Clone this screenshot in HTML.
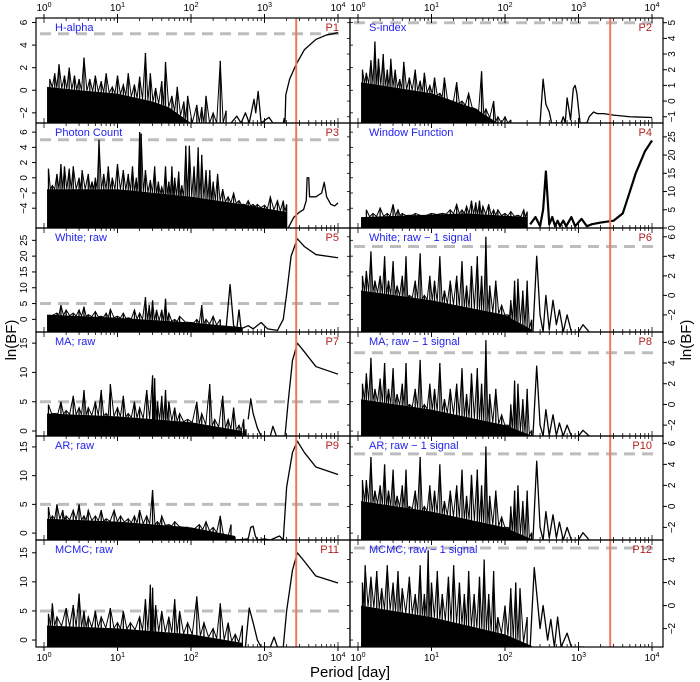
<!DOCTYPE html>
<html><head><meta charset="utf-8"><style>
html,body{margin:0;padding:0;background:#fff}
svg{display:block;font-family:"Liberation Sans",sans-serif}
</style></head><body>
<svg id="c" width="700" height="682" viewBox="0 0 700 682"></svg>
<script>
// ---- data (period [day], ln(BF)) ----
const p1Dense=[[1.1,0.3],[3,0],[10,-0.3],[30,-1],[50,-1.5],[100,-2.9]];
const p1Spikes=[[1.2,1],[1.4,1.5],[1.6,2.3],[1.9,1.3],[2.2,2],[2.6,1.3],[3.0,1],[3.5,2.9],[4.2,1],[5,1.3],[6,0.8],[7,1.5],[8.5,0.3],[10,1.3],[12,0.5],[14,1.5],[17,0.5],[20,1.2],[24,3.3],[28,1.5],[33,0.2],[40,0.8],[45,2.5],[55,-0.5],[65,0.3],[80,-1],[90,-0.5],[120,-1.3],[140,-1.5],[160,-0.5],[200,-2],[250,2.6],[300,-1.8]];
const p1Curve=[[350,-2.9],[420,-2.3],[480,-2.9],[550,-2],[620,-2.9],[720,-0.8],[760,-2],[820,-0.1],[900,-2.9],[1150,-2.4],[1300,-2.9],[1800,-2.9],[1850,-2.5],[1900,-2.9],[1950,-0.4],[2200,1],[2700,2.3],[3500,3.6],[5000,4.5],[7000,4.9],[10000,5.1]];

const p2Dense=[[1.1,1.2],[10,0.5],[40,-0.5],[80,-1.4]];
const p2Spikes=[[1.15,2],[1.3,1.8],[1.5,2.6],[1.7,3.8],[1.9,2.7],[2.2,3],[2.5,2],[2.8,2.7],[3.2,2],[3.7,1.4],[4.2,2.5],[5,1.5],[6,2],[7,1.3],[8,1.8],[9.5,1],[11,1.5],[13,0.5],[15,1.5],[18,0],[22,1.2],[26,0],[32,0.5],[40,-0.5],[48,1.9],[55,-0.5],[70,0],[80,-1],[100,-1],[120,-1.2]];
const p2Curve=[[300,-1.4],[330,1.4],[360,-0.2],[400,-0.7],[430,-1.4],[580,-1.4],[620,-1],[660,-1.4],[700,0.2],[780,-1.2],[850,0.8],[900,1],[950,0.5],[1050,-1.4],[1300,-1.4],[1400,-1],[1600,-0.7],[1800,-0.8],[2200,-0.8],[3000,-0.9],[5000,-1],[10000,-1.05]];

const p3Dense=[[1.1,-1.5],[10,-1.5],[100,-2.5],[500,-3.5],[2000,-4.5]];
const p3Spikes=[[1.15,1.2],[1.3,-1],[1.5,0.5],[1.7,1.8],[1.9,1.5],[2.2,1.2],[2.5,1.5],[3,0],[3.3,1],[4,0.5],[4.5,-0.5],[5,0],[5.6,5],[6.5,0.5],[7.5,1.5],[8.5,0],[10,1.8],[12,1],[14,0.5],[16,1.5],[18,0],[20,6],[21,5.8],[24,1],[28,-0.3],[32,1.5],[36,-0.5],[40,-1.2],[45,1.5],[50,-0.5],[55,1.5],[60,0],[68,0.8],[75,-1],[85,4.2],[95,4.2],[110,1.5],[125,4],[140,3],[160,1],[180,1],[200,-0.5],[230,0.5],[270,-1.5],[320,-2.5],[380,-2],[450,-3],[520,-3.5],[600,-3],[700,-3.5],[800,-3.5],[1000,-3.6],[1200,-2.5],[1500,-3],[1800,-3],[2000,-3.5]];
const p3Curve=[[2100,-6.6],[2500,-5.2],[3000,-4.5],[3400,-4.2],[3700,-3],[3800,0],[4000,0],[4100,-2.5],[5000,-2.5],[6000,-2],[6500,-0.6],[7000,-2.5],[8000,-3.5],[9000,-3.7],[10000,-3.3]];

const p4Dense=[[1.1,3],[30,4],[200,3]];
const p4Spikes=[[1.3,5],[1.6,4],[2,5.5],[2.5,4],[3,6.5],[3.5,5],[4,4],[5,3.5],[6,4],[8,3],[10,4],[14,4],[18,5],[22,6.5],[26,5],[30,6],[35,7.5],[40,7],[45,7.5],[50,6],[60,6.5],[70,5],[80,5],[100,4],[120,4.5],[150,3.5],[180,5],[200,4.5]];
const p4Curve=[[220,1],[260,3],[300,0.5],[330,5],[360,15.5],[380,8],[400,1],[440,3],[480,0.5],[520,2],[560,0.5],[620,2],[680,0.5],[800,3],[900,0.5],[1100,2.5],[1300,0.5],[1500,1],[2000,1.5],[3000,2],[4000,4],[5000,10],[6000,15],[8000,21],[10000,24]];

const p5Dense=[[1.1,1.5],[10,0.5],[100,-1],[500,-2.5]];
const p5Spikes=[[1.2,1],[1.5,2],[1.7,4.5],[2,3],[2.5,2],[3,3],[3.5,4],[4,1.5],[5,2.5],[6,1],[7,2],[8,3.2],[10,1],[12,2],[14,0.5],[17,3],[20,2],[24,7],[27,4.5],[30,6],[34,3],[40,3],[45,6.5],[50,2],[60,0],[70,1],[100,-1],[120,0],[140,4.5],[160,0],[200,1],[250,0]];
const p5Curve=[[300,-3],[340,11],[380,-2],[420,-3],[450,3],[480,-3],[600,-2],[700,-3],[900,-1],[1100,-3],[1500,-3.5],[1800,0],[2000,8],[2300,20],[2800,25.5],[3500,23],[5000,20.5],[10000,19.5]];

const p6Dense=[[1.1,0.5],[10,-0.5],[100,-2],[230,-3.5]];
const p6Spikes=[[1.15,2],[1.3,2.5],[1.5,4.5],[1.7,1.5],[2,2],[2.3,4],[2.6,1.5],[3,3.5],[3.4,1],[4,2],[4.5,4],[5,0],[6,1.5],[7,4.3],[8,0],[9.5,2],[11,1.5],[13,4],[15,0.5],[18,1.5],[22,2],[26,3.5],[30,1],[35,3],[42,4],[48,2],[55,6],[62,1],[75,1.5],[90,-1],[110,-2],[120,-0.5],[135,1.5],[150,1.7],[175,0.5],[200,1.5],[230,-2.5]];
const p6Curve=[[240,-3.75],[270,4],[300,-2],[330,-3.75],[360,0],[400,-3.5],[450,-0.5],[500,-3],[550,-1.5],[620,-3.75],[700,-2],[800,-3.75],[1000,-3.75],[1150,-3],[1400,-3.75]];

const p7Dense=[[1.1,3],[10,2.5],[100,1.5],[500,0]];
const p7Spikes=[[1.15,4.5],[1.4,3],[1.7,5],[2,3.5],[2.5,6],[3,4],[3.5,7],[4,4],[5,5],[6,7],[7,3],[8,8],[10,4],[12,6],[14,3],[17,5],[20,4],[25,7],[30,9.5],[32,9],[35,5],[40,6],[45,7],[50,5],[60,4],[70,3],[90,2],[120,5],[140,3],[180,8],[210,2],[270,6],[320,2],[380,4],[450,1],[520,2],[560,0.3]];
const p7Curve=[[600,2],[650,5.5],[700,3],[800,0.5],[900,-0.85],[1200,-0.85],[1300,0.8],[1450,-0.85],[1900,-0.85],[2100,5],[2400,12],[2800,15],[3500,13.5],[5000,11],[10000,9.7]];

const p8Dense=[[1.1,0.5],[10,-0.5],[100,-2],[230,-3]];
const p8Spikes=[[1.15,2],[1.3,3],[1.5,4.5],[1.7,1.5],[2,2.5],[2.3,4],[2.6,1.5],[3,3.5],[3.4,1],[4,2],[4.5,4],[5,0],[6,1.5],[7,4.3],[8,0],[9.5,2],[11,1.5],[13,4],[15,0.5],[18,1.5],[22,2],[26,3.5],[30,1],[35,3],[42,3.5],[48,2],[55,6.2],[62,1],[75,1.5],[90,-1],[110,-2],[120,0],[135,2.3],[150,2],[175,0.5],[200,1.5],[230,-2.5]];
const p8Curve=[[240,-3.05],[270,3.7],[300,-2],[330,-3.05],[360,-0.5],[400,-3],[450,-1],[500,-3],[550,-1.8],[620,-3.05],[700,-2],[800,-3.05],[1000,-3.05],[1150,-2.5],[1400,-3.05]];

const p9Dense=[[1.1,2.5],[10,2],[100,1],[400,-0.5]];
const p9Spikes=[[1.15,4.5],[1.3,3],[1.5,5],[1.8,4],[2,3],[2.5,4],[3,5],[3.5,3],[4,4],[5,3],[6,4],[7,2.5],[9,4],[11,3],[14,2.5],[17,3],[20,4],[25,3],[30,7.5],[35,2],[40,3],[50,1.5],[60,2],[80,1],[100,0.5],[130,1.5],[160,2],[200,1],[250,3],[300,-0.5],[350,1.5]];
const p9Curve=[[400,-1.2],[600,-1],[650,1],[700,1.2],[750,-0.5],[800,-1.2],[1000,-1],[1200,-1.2],[1600,-0.5],[1800,-1.2],[2000,8],[2400,14],[2800,16],[3500,14],[5000,11.5],[10000,10.2]];

const p10Dense=[[1.1,0.5],[10,-0.5],[100,-2],[230,-3.1]];
const p10Spikes=[[1.15,2.5],[1.3,2.5],[1.5,4.7],[1.7,1.5],[2,2],[2.3,4],[2.6,1.5],[3,3.5],[3.4,1],[4,2],[4.5,3.5],[5,0],[6,1.5],[7,4.7],[8,0],[9.5,2],[11,1.5],[13,4],[15,0.5],[18,1.5],[22,2],[26,3.5],[30,1],[35,3],[42,3.5],[48,2],[55,5.7],[62,1],[75,1.5],[90,-1],[110,-2],[120,0],[135,1.5],[150,2],[175,0.5],[200,1.5],[230,-2.5]];
const p10Curve=[[240,-3.2],[270,4.3],[300,-2],[330,-3.2],[360,-0.5],[400,-3],[450,-0.8],[500,-3],[550,-1.5],[620,-3.2],[700,-2],[800,-3.2],[1000,-3.2],[1150,-2.5],[1400,-3.2]];

const p11Dense=[[1.1,2.5],[10,2],[100,1],[500,-0.5]];
const p11Spikes=[[1.15,4.5],[1.3,6.3],[1.5,4],[2,5.5],[2.5,6],[3,8],[3.5,5],[4,4],[5,5],[6,4],[8,5.5],[10,3],[12,5],[15,3],[20,4],[24,7],[28,9.5],[30,9],[33,6],[40,5],[50,4],[60,7],[70,5],[90,3],[120,7.5],[150,3],[200,2],[250,6.3],[320,3],[400,1],[500,2.5]];
const p11Curve=[[550,-1.2],[620,5.5],[700,3],[800,0],[900,-1.2],[1200,-1.2],[1350,0.5],[1500,-1.2],[1800,-1.2],[2000,5],[2400,12],[2800,15],[3500,13.5],[5000,11],[10000,9.8]];

const p12Dense=[[1.1,0],[10,-1],[100,-2.5],[230,-3.5]];
const p12Spikes=[[1.15,2],[1.25,3.5],[1.5,2.5],[1.8,3],[2.1,1.5],[2.5,3.5],[3,2],[3.5,3],[4,1.5],[5,2.5],[6,1],[7,3.5],[8,1],[9,4.8],[10,2],[12,3],[14,1],[17,2.5],[20,3.5],[24,2],[28,1],[32,3],[38,1],[45,2.5],[52,4],[60,1],[70,3],[80,-1],[100,0],[120,1.5],[140,2],[160,1.5],[200,-1]];
const p12Curve=[[220,-3.6],[250,3.3],[300,-2],[330,0],[380,-3],[420,-1.2],[470,-3.6],[520,-1],[580,-3.6],[700,-2.4],[800,-3.6],[1200,-3.6]];

const xTickLabels=["10","10","10","10","10"];
const xTickExps=["0","1","2","3","4"];
const signalPeriod=2700;
const threshold=5;

// ---- layout ----
const svg=document.getElementById('c');
const NS='http://www.w3.org/2000/svg';
function mk(tag,attrs,parent){const e=document.createElementNS(NS,tag);for(const k in attrs)e.setAttribute(k,attrs[k]);(parent||svg).appendChild(e);return e;}
const rows=[18,123,228,332,436,540,647];
const cols=[{x0:36,x1:350,o:44},{x0:350,x1:663,o:358}];
const dec=73.5;
const panels=[
 {n:'P1',t:'H-alpha',c:0,r:0,lo:-2.9,hi:6.4,ticks:[-2,0,2,4,6],d:p1Dense,s:p1Spikes,k:p1Curve,th:true},
 {n:'P2',t:'S-index',c:1,r:0,lo:-1.4,hi:5.3,ticks:[-1,0,1,2,3,4,5],d:p2Dense,s:p2Spikes,k:p2Curve,th:true},
 {n:'P3',t:'Photon Count',c:0,r:1,lo:-6.6,hi:7.2,ticks:[-4,-2,0,2,4,6],d:p3Dense,s:p3Spikes,k:p3Curve,th:true},
 {n:'P4',t:'Window Function',c:1,r:1,lo:0,hi:28.8,ticks:[0,5,10,15,20,25],d:p4Dense,s:p4Spikes,k:p4Curve,th:false},
 {n:'P5',t:'White; raw',c:0,r:2,lo:-4,hi:28.9,ticks:[0,5,10,15,20,25],d:p5Dense,s:p5Spikes,k:p5Curve,th:true},
 {n:'P6',t:'White; raw \u2212 1 signal',c:1,r:2,lo:-3.75,hi:6.9,ticks:[-2,0,2,4,6],d:p6Dense,s:p6Spikes,k:p6Curve,th:true},
 {n:'P7',t:'MA; raw',c:0,r:3,lo:-0.85,hi:16.9,ticks:[0,5,10,15],d:p7Dense,s:p7Spikes,k:p7Curve,th:true},
 {n:'P8',t:'MA; raw \u2212 1 signal',c:1,r:3,lo:-3.05,hi:7,ticks:[-2,0,2,4,6],d:p8Dense,s:p8Spikes,k:p8Curve,th:true},
 {n:'P9',t:'AR; raw',c:0,r:4,lo:-1.2,hi:16.9,ticks:[0,5,10,15],d:p9Dense,s:p9Spikes,k:p9Curve,th:true},
 {n:'P10',t:'AR; raw \u2212 1 signal',c:1,r:4,lo:-3.2,hi:6.7,ticks:[-2,0,2,4,6],d:p10Dense,s:p10Spikes,k:p10Curve,th:true},
 {n:'P11',t:'MCMC; raw',c:0,r:5,lo:-1.2,hi:17.2,ticks:[0,5,10,15],d:p11Dense,s:p11Spikes,k:p11Curve,th:true},
 {n:'P12',t:'MCMC; raw \u2212 1 signal',c:1,r:5,lo:-3.6,hi:5.7,ticks:[-2,0,2,4],d:p12Dense,s:p12Spikes,k:p12Curve,th:true}
];
function denseAt(d,per){
 if(per<=d[0][0])return d[0][1];
 for(let j=0;j<d.length-1;j++){const a=d[j],b=d[j+1];
  if(per<=b[0]){const f=(Math.log10(per)-Math.log10(a[0]))/(Math.log10(b[0])-Math.log10(a[0]));return a[1]+f*(b[1]-a[1]);}}
 return null;
}
panels.forEach((p,i)=>{
 const C=cols[p.c],top=rows[p.r],bot=rows[p.r+1];
 const X=v=>C.o+Math.log10(v)*dec;
 const Y=v=>bot-(Math.max(p.lo,Math.min(p.hi,v))-p.lo)/(p.hi-p.lo)*(bot-top);
 const g=mk('g',{});
 
 
 const cid='clip'+i;
 const cp=mk('clipPath',{id:cid},g);mk('rect',{x:C.x0,y:top,width:C.x1-C.x0,height:bot-top},cp);
 const inner=mk('g',{'clip-path':'url(#'+cid+')'},g);
 if(p.th){const l=mk('line',{x1:C.x0+4,x2:C.x1-4,y1:Y(threshold),y2:Y(threshold),stroke:'#bdbdbd','stroke-width':3,'stroke-dasharray':'11,7'},inner);
  }
 let pts=p.d.map(q=>X(q[0])+','+Y(q[1]));
 pts.push(X(p.d[p.d.length-1][0])+','+bot);pts.push(X(p.d[0][0])+','+bot);
 const poly=mk('polygon',{points:pts.join(' '),fill:'#000'},inner);
 
 p.s.forEach(q=>{const l=mk('line',{x1:X(q[0]),x2:X(q[0]),y1:bot,y2:Y(q[1]),stroke:'#000','stroke-width':1.3},inner);
  });
 const jag=[];
 for(let j=0;j<p.s.length-1;j++){const a=p.s[j],b=p.s[j+1];jag.push(X(a[0])+','+Y(a[1]));
  const mp=Math.sqrt(a[0]*b[0]);const dl=denseAt(p.d,mp);jag.push(X(mp)+','+(dl===null?bot:Y(dl)));}
 jag.push(X(p.s[p.s.length-1][0])+','+Y(p.s[p.s.length-1][1]));
 const jl=mk('polyline',{points:jag.join(' '),fill:'none',stroke:'#000','stroke-width':1},inner);
 
 const cl=mk('polyline',{points:p.k.map(q=>X(q[0])+','+Y(q[1])).join(' '),fill:'none',stroke:'#000','stroke-width':p.n==='P4'?2.2:1.3,'stroke-linejoin':'round'},inner);
 
 const rl=mk('line',{x1:X(signalPeriod),x2:X(signalPeriod),y1:top,y2:bot,stroke:'#f07860','stroke-width':2},inner);
 
 const fr=mk('rect',{x:C.x0,y:top,width:C.x1-C.x0,height:bot-top,fill:'none',stroke:'#000','stroke-width':1.2},g);
 
 for(let e=0;e<4;e++)for(let m=1;m<=10;m++){const xx=C.o+(e+Math.log10(m))*dec;const len=(m===1||m===10)?5:3;
  mk('line',{x1:xx,x2:xx,y1:top,y2:top+len,stroke:'#000','stroke-width':0.8},g);
  mk('line',{x1:xx,x2:xx,y1:bot,y2:bot-len,stroke:'#000','stroke-width':0.8},g);}
 p.ticks.forEach(v=>{const yy=Y(v);
  const xs=p.c===0?C.x0:C.x1, dir=p.c===0?-1:1;
  mk('line',{x1:xs,x2:xs+dir*4,y1:yy,y2:yy,stroke:'#000','stroke-width':1},g);
  const xo=p.c===0?C.x1:C.x0;mk('line',{x1:xo,x2:xo-dir*3,y1:yy,y2:yy,stroke:'#000','stroke-width':0.8},g);
  const tx=p.c===0?C.x0-9:C.x1+12;
  const t=mk('text',{x:tx,y:yy,'font-size':10,'text-anchor':'middle',transform:'rotate(-90 '+tx+' '+yy+')'},g);
  t.textContent=(v<0?'\u2212'+(-v):v);
  });
 const lt=mk('text',{x:C.x0+19,y:top+13,'font-size':11,fill:'#2222ee'},g);lt.textContent=p.t;
 
 const nt=mk('text',{x:C.x1-11,y:top+13,'font-size':11,fill:'#b22222','text-anchor':'end'},g);nt.textContent=p.n;
 
});
cols.forEach(C=>{xTickLabels.forEach((lab,i)=>{
 [[11,'top'],[661,'bottom']].forEach(([yy,w])=>{
  const xx=C.o+i*dec;
  const t=mk('text',{x:xx,y:yy,'font-size':10,'text-anchor':'middle'});
  
  t.textContent=lab;const s=mk('tspan',{'font-size':7,dy:-4},t);s.textContent=xTickExps[i];
  mk('line',{x1:xx,x2:xx,y1:w==='top'?14:647,y2:w==='top'?18:651,stroke:'#000'});
 });});});
const yl=mk('text',{x:16,y:340,'font-size':15,'text-anchor':'middle',transform:'rotate(-90 16 340)'});yl.textContent='ln(BF)';

const yr=mk('text',{x:691,y:340,'font-size':15,'text-anchor':'middle',transform:'rotate(-90 691 340)'});yr.textContent='ln(BF)';

const xl=mk('text',{x:350,y:677,'font-size':15,'text-anchor':'middle'});xl.textContent='Period [day]';

</script>
</body></html>
